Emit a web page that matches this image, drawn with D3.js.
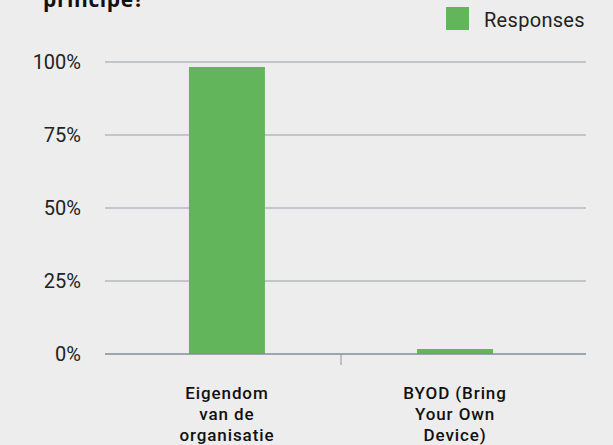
<!DOCTYPE html>
<html>
<head>
<meta charset="utf-8">
<script src="https://cdn.jsdelivr.net/npm/d3@7"></script>
<style>
  body { margin: 0; background: #ededed; }
  svg { display: block; }
</style>
</head>
<body>
<div id="chart"></div>
<script>
// chart data
var categories = ["Eigendom van de organisatie", "BYOD (Bring Your Own Device)"];
var categoryLines = [["Eigendom", "van de", "organisatie"], ["BYOD (Bring", "Your Own", "Device)"]];
var responses = [98.3, 1.7];
var yTicks = [0, 25, 50, 75, 100];
var seriesName = "Responses";
var title = "principe?";

var svgWidth = 613, svgHeight = 445;
var gridLeft = 105, gridRight = 586;
var plotTop = 62, plotBottom = 354;

var svg = d3.select("#chart").append("svg")
  .attr("width", svgWidth)
  .attr("height", svgHeight);

svg.append("rect").attr("width", svgWidth).attr("height", svgHeight).attr("fill", "#ededed");

var xScale = d3.scaleBand()
  .domain(categories)
  .range([113, 569])
  .paddingInner(0.667)
  .paddingOuter(0.333);

var yScale = d3.scaleLinear()
  .domain([0, 100])
  .range([plotBottom, plotTop]);

// title (cut off at top)
svg.append("text")
  .attr("x", 43)
  .attr("y", 7)
  .attr("font-family", "'Open Sans', sans-serif")
  .attr("font-weight", "bold")
  .attr("font-size", 21)
  .attr("letter-spacing", 0.6)
  .attr("fill", "#111")
  .text(title);

// gridlines
svg.append("g").selectAll("line")
  .data(yTicks.filter(d => d > 0))
  .enter()
  .append("line")
  .attr("x1", gridLeft)
  .attr("x2", gridRight)
  .attr("y1", d => yScale(d))
  .attr("y2", d => yScale(d))
  .attr("stroke", "#b3b7bc")
  .attr("stroke-width", 1.5);

// y tick labels
svg.append("g").selectAll("text")
  .data(yTicks)
  .enter()
  .append("text")
  .attr("x", 81)
  .attr("y", d => yScale(d) + 7)
  .attr("text-anchor", "end")
  .attr("font-family", "Roboto, sans-serif")
  .attr("font-size", 20)
  .attr("fill", "#222")
  .text(d => d + "%");

// bars
svg.append("g").selectAll("rect")
  .data(responses)
  .enter()
  .append("rect")
  .attr("x", (d, i) => xScale(categories[i]))
  .attr("width", xScale.bandwidth())
  .attr("y", d => yScale(d))
  .attr("height", d => plotBottom - yScale(d))
  .attr("fill", "#62b55a");

// baseline
svg.append("line")
  .attr("x1", gridLeft)
  .attr("x2", gridRight)
  .attr("y1", plotBottom)
  .attr("y2", plotBottom)
  .attr("stroke", "#7f8e9a")
  .attr("stroke-width", 1.5);

// tick between categories
var midX = (xScale(categories[0]) + xScale.bandwidth() + xScale(categories[1])) / 2;
svg.append("line")
  .attr("x1", midX)
  .attr("x2", midX)
  .attr("y1", plotBottom)
  .attr("y2", plotBottom + 11)
  .attr("stroke", "#8a96a0")
  .attr("stroke-width", 1);

// x labels
var xLabels = svg.append("g").selectAll("text")
  .data(categories)
  .enter()
  .append("text")
  .attr("text-anchor", "middle")
  .attr("font-family", "Roboto, sans-serif")
  .attr("font-weight", 500)
  .attr("font-size", 17)
  .attr("letter-spacing", 0.9)
  .attr("fill", "#111");

xLabels.each(function(d, i) {
  var t = d3.select(this);
  categoryLines[i].forEach(function(line, j) {
    t.append("tspan")
      .attr("x", xScale(d) + xScale.bandwidth() / 2)
      .attr("y", 399 + j * 21)
      .text(line);
  });
});

// legend
svg.append("rect")
  .attr("x", 446)
  .attr("y", 7)
  .attr("width", 23)
  .attr("height", 23)
  .attr("fill", "#62b55a");

svg.append("text")
  .attr("x", 484)
  .attr("y", 27)
  .attr("font-family", "Roboto, sans-serif")
  .attr("font-size", 20)
  .attr("letter-spacing", 0.3)
  .attr("fill", "#222")
  .text(seriesName);
</script>
</body>
</html>
